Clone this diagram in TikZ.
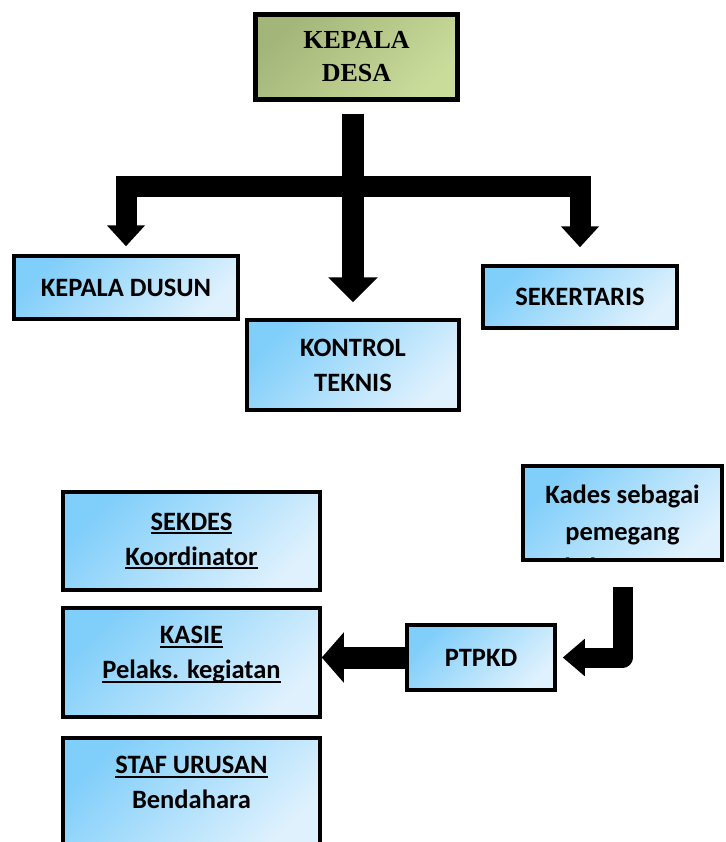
\documentclass[tikz,border=0pt]{standalone}
\usepackage{fontspec}
\setmainfont{Carlito}
\newfontfamily\timesfont{Liberation Serif}
\usetikzlibrary{arrows.meta,positioning}
\definecolor{skydark}{RGB}{128,206,250}
\definecolor{skylight}{RGB}{222,241,253}
\definecolor{olivedark}{RGB}{164,181,122}
\definecolor{olivelight}{RGB}{202,220,154}
\newcommand{\ulin}[1]{\setbox0\hbox{#1}\rlap{\rule[-4pt]{\wd0}{1.8pt}}\box0}

\begin{document}
\begin{tikzpicture}[x=1pt,y=-1pt,
    box/.style={draw=black, line width=3.5pt, left color=skydark, right color=skylight,
                shading angle=45, align=center, inner sep=0pt,
                font=\bfseries\fontsize{26.5}{35}\selectfont},
    boxtext/.style={align=center, inner sep=0pt, font=\bfseries\fontsize{26.5}{37}\selectfont},
    desabox/.style={draw=black, line width=5pt, left color=olivedark, right color=olivelight,
                shading angle=45, align=center, inner sep=0pt,
                font=\timesfont\bfseries\fontsize{26}{33}\selectfont},
    fat/.style={line width=#1, line join=round}]

\useasboundingbox (0,0) rectangle (725,842);
\clip (0,0) rectangle (725,842);

% struktur atas
\node[desabox, minimum width=202pt, minimum height=85pt] (desa) at (356.5,57) {KEPALA\\DESA};
\node[box, minimum width=224pt, minimum height=63pt] (dusun) at (126,287.5) {KEPALA DUSUN};
\node[box, minimum width=212pt, minimum height=90pt] (kontrol) at (353,365) {KONTROL\\TEKNIS};
\node[box, minimum width=194pt, minimum height=62pt] (sekertaris) at (580,297) {SEKERTARIS};

\coordinate (bar) at (353,187);
\draw[fat=22pt, -{Triangle[width=48pt,length=25pt]}, shorten <=12pt, shorten >=16pt]
    (kontrol.north |- desa.south) -- (kontrol.north);
\draw[fat=21pt, line join=miter, -{Triangle[width=37pt,length=21pt]}, shorten >=8pt]
    (bar) -| (dusun.north);
\draw[fat=21pt, line join=miter, -{Triangle[width=37pt,length=21pt]}, shorten >=17pt]
    (bar) -| (sekertaris.north);

% struktur bawah
\node[box, minimum width=257pt, minimum height=98pt] (sekdes) at (191.5,541)
    {\ulin{SEKDES}\\\ulin{Koordinator}};
\node[box, minimum width=257pt, minimum height=109pt, text depth=20pt] (kasie) at (191.5,662.5)
    {\ulin{KASIE}\\\ulin{Pelaks. kegiatan}};
\node[box, minimum width=257pt, minimum height=109pt, text depth=20pt] (staf) at (191.5,792.5)
    {\ulin{STAF URUSAN}\\Bendahara};

\node[box, minimum width=199pt, minimum height=94pt] (kades) at (622.5,513) {};
\begin{scope}
  \clip (kades.south west) rectangle (kades.north east);
  \node[boxtext] (kadestext) at (622.5,531) {Kades sebagai\\pemegang\\[-1pt]kekuasaan};
\end{scope}
\node[box, minimum width=148pt, minimum height=65pt] (ptpkd) at (481,657.5) {PTPKD};

\draw[fat=22pt, line join=miter, -{Triangle[width=49pt,length=22pt]}]
    (ptpkd.west) -- (ptpkd.west -| kasie.east);
\draw[fat=20pt, -{Triangle[width=36pt,length=22pt]}, shorten <=25pt, shorten >=6pt]
    (kades.south) |- (ptpkd.east);
\end{tikzpicture}
\end{document}
